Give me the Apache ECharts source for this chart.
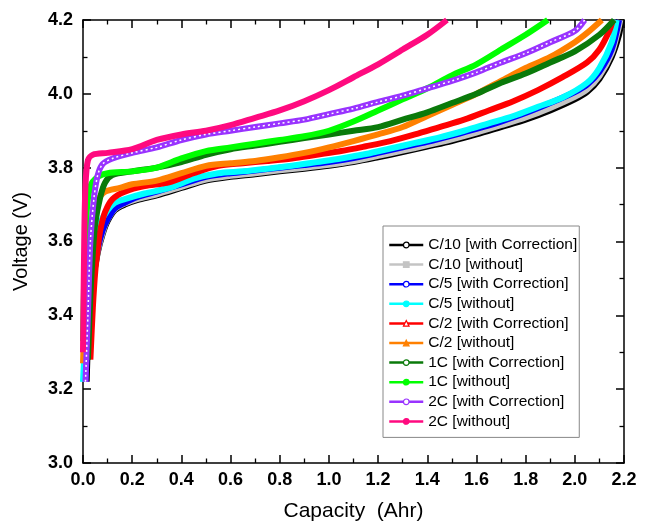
<!DOCTYPE html>
<html><head><meta charset="utf-8">
<script src="https://cdn.jsdelivr.net/npm/echarts@6/dist/echarts.min.js"></script>
<style>html,body{margin:0;padding:0;background:#fff}#c{width:651px;height:521px}</style>
</head><body><div id="c"></div>
<script>
const seriesNames = ["C/10 [with Correction]","C/10 [without]","C/5 [with Correction]","C/5 [without]","C/2 [with Correction]","C/2 [without]","1C [with Correction]","1C [without]","2C [with Correction]","2C [without]"];
const xTicks = [0.0,0.2,0.4,0.6,0.8,1.0,1.2,1.4,1.6,1.8,2.0,2.2];
const yTicks = [3.0,3.2,3.4,3.6,3.8,4.0,4.2];

const c10With = [[0.015,3.22],[0.02,3.32],[0.03,3.42],[0.04,3.49],[0.06,3.57],[0.08,3.62],[0.1,3.655],[0.13,3.685],[0.17,3.70],[0.22,3.712],[0.3,3.725],[0.4,3.745],[0.5,3.765],[0.6,3.775],[0.7,3.782],[0.8,3.79],[0.9,3.797],[1.0,3.805],[1.1,3.815],[1.2,3.828],[1.3,3.842],[1.4,3.857],[1.5,3.872],[1.6,3.89],[1.7,3.91],[1.8,3.93],[1.9,3.955],[2.0,3.985],[2.05,4.005],[2.1,4.04],[2.15,4.1],[2.18,4.16],[2.19,4.2]];
const c10Without = [[0.005,3.24],[0.015,3.34],[0.025,3.43],[0.04,3.5],[0.06,3.575],[0.08,3.625],[0.1,3.66],[0.13,3.688],[0.17,3.703],[0.22,3.715],[0.3,3.728],[0.4,3.748],[0.5,3.768],[0.6,3.778],[0.7,3.785],[0.8,3.793],[0.9,3.8],[1.0,3.808],[1.1,3.818],[1.2,3.832],[1.3,3.846],[1.4,3.861],[1.5,3.877],[1.6,3.895],[1.7,3.915],[1.8,3.936],[1.9,3.962],[2.0,3.992],[2.05,4.012],[2.1,4.048],[2.15,4.11],[2.175,4.17],[2.185,4.2]];
const c5With = [[0.01,3.22],[0.02,3.35],[0.03,3.44],[0.04,3.5],[0.06,3.58],[0.08,3.63],[0.1,3.66],[0.13,3.69],[0.17,3.705],[0.22,3.72],[0.3,3.735],[0.4,3.755],[0.5,3.775],[0.6,3.785],[0.7,3.792],[0.8,3.80],[0.9,3.807],[1.0,3.815],[1.1,3.826],[1.2,3.84],[1.3,3.855],[1.4,3.87],[1.5,3.887],[1.6,3.905],[1.7,3.925],[1.8,3.948],[1.9,3.975],[2.0,4.005],[2.05,4.025],[2.1,4.06],[2.15,4.12],[2.18,4.2]];
const c5Without = [[0.0,3.22],[0.01,3.35],[0.02,3.45],[0.03,3.52],[0.05,3.6],[0.07,3.65],[0.1,3.685],[0.13,3.705],[0.17,3.715],[0.25,3.73],[0.35,3.745],[0.45,3.77],[0.55,3.785],[0.65,3.79],[0.75,3.797],[0.85,3.805],[0.95,3.815],[1.05,3.825],[1.15,3.837],[1.25,3.852],[1.35,3.867],[1.45,3.882],[1.55,3.9],[1.65,3.92],[1.75,3.94],[1.85,3.965],[1.95,3.99],[2.05,4.03],[2.1,4.07],[2.15,4.14],[2.17,4.2]];
const c2With = [[0.03,3.28],[0.04,3.42],[0.05,3.52],[0.06,3.58],[0.07,3.63],[0.09,3.68],[0.12,3.715],[0.17,3.735],[0.25,3.75],[0.35,3.76],[0.45,3.785],[0.55,3.805],[0.65,3.812],[0.75,3.818],[0.85,3.825],[0.95,3.835],[1.05,3.845],[1.15,3.858],[1.25,3.872],[1.35,3.89],[1.45,3.91],[1.55,3.93],[1.65,3.955],[1.75,3.98],[1.85,4.01],[1.95,4.045],[2.05,4.085],[2.1,4.12],[2.14,4.17],[2.155,4.2]];
const c2Without = [[0.0,3.27],[0.01,3.45],[0.02,3.58],[0.04,3.66],[0.06,3.71],[0.09,3.735],[0.15,3.745],[0.2,3.755],[0.3,3.765],[0.4,3.785],[0.5,3.805],[0.6,3.812],[0.7,3.818],[0.8,3.828],[0.9,3.84],[1.0,3.855],[1.1,3.872],[1.2,3.89],[1.3,3.91],[1.4,3.94],[1.5,3.97],[1.6,4.0],[1.7,4.035],[1.8,4.07],[1.9,4.1],[2.0,4.14],[2.05,4.165],[2.11,4.2]];
const c1With = [[0.02,3.28],[0.03,3.45],[0.04,3.57],[0.05,3.65],[0.07,3.72],[0.09,3.76],[0.12,3.78],[0.2,3.79],[0.3,3.80],[0.4,3.815],[0.5,3.835],[0.6,3.85],[0.7,3.86],[0.8,3.87],[0.9,3.88],[1.0,3.89],[1.1,3.9],[1.2,3.91],[1.3,3.93],[1.4,3.95],[1.5,3.975],[1.6,4.0],[1.7,4.03],[1.8,4.055],[1.9,4.085],[2.0,4.115],[2.1,4.16],[2.16,4.2]];
const c1Without = [[0.0,3.33],[0.005,3.5],[0.015,3.68],[0.03,3.75],[0.06,3.775],[0.1,3.785],[0.2,3.79],[0.3,3.80],[0.4,3.825],[0.5,3.845],[0.6,3.855],[0.7,3.865],[0.8,3.875],[0.9,3.885],[1.0,3.9],[1.1,3.925],[1.2,3.955],[1.3,3.985],[1.4,4.015],[1.5,4.05],[1.6,4.08],[1.7,4.12],[1.8,4.16],[1.89,4.2]];
const c2cWith = [[0.01,3.22],[0.02,3.4],[0.03,3.6],[0.045,3.72],[0.06,3.78],[0.08,3.81],[0.12,3.825],[0.2,3.84],[0.3,3.855],[0.4,3.875],[0.5,3.89],[0.6,3.90],[0.7,3.91],[0.8,3.92],[0.9,3.93],[1.0,3.945],[1.1,3.96],[1.2,3.978],[1.3,3.995],[1.4,4.015],[1.5,4.035],[1.6,4.058],[1.7,4.085],[1.8,4.11],[1.9,4.14],[2.0,4.17],[2.04,4.2]];
const c2cWithout = [[0.0,3.30],[0.005,3.6],[0.01,3.75],[0.02,3.82],[0.04,3.835],[0.1,3.84],[0.2,3.85],[0.3,3.875],[0.4,3.89],[0.5,3.90],[0.6,3.915],[0.7,3.935],[0.8,3.955],[0.9,3.98],[1.0,4.01],[1.1,4.045],[1.2,4.08],[1.3,4.12],[1.4,4.16],[1.48,4.2]];

const dataSets = [c10With,c10Without,c5With,c5Without,c2With,c2Without,c1With,c1Without,c2cWith,c2cWithout];
const colors = ["#000000","#c4c4c4","#0000ff","#00ffff","#ff0000","#ff8000","#0a7a0a","#00ff00","#9933ff","#ff0a7f"];
const symbols = ["emptyCircle","rect","emptyCircle","circle","emptyTriangle","triangle","emptyCircle","circle","emptyCircle","circle"];

const font = "Liberation Sans, Arial, sans-serif";
const isEmpty = s => s.startsWith('empty');
const series = dataSets.map((d,i)=>({
  name: seriesNames[i], type:'line', data:d, smooth:0.3,
  symbol: symbols[i].replace('empty','').toLowerCase(), symbolSize: 5, showSymbol:false,
  color: colors[i],
  lineStyle:{width:6,color:colors[i]},
  itemStyle:{color: isEmpty(symbols[i]) ? '#fff' : colors[i], borderColor:colors[i], borderWidth:1.2},
  emphasis:{disabled:true}, z: 2+i, clip:true
}));
// hollow-marker texture on the 2C corrected curve
series.push({name:'_tex', type:'line', data:c2cWith, smooth:0.3, showSymbol:false,
  lineStyle:{width:1.5,color:'#ffffff',type:[2,3]}, z:11, silent:true, clip:true});

const legendData = seriesNames.map((n,i)=>({
  name:n,
  itemStyle:{color: isEmpty(symbols[i]) ? '#ffffff' : colors[i], borderColor:colors[i], borderWidth:1.2},
  lineStyle:{color:colors[i], width:2.5}
}));

const chart = echarts.init(document.getElementById('c'),null,{renderer:'canvas'});
const tickStyle = {show:true, inside:true, length:8, lineStyle:{color:'#000',width:1.5}};
const minorTick = {show:true, splitNumber:2, length:4.5, lineStyle:{color:'#000',width:1.3}};
chart.setOption({
  animation:false,
  backgroundColor:'#fff',
  grid:{left:83,right:27,top:20,bottom:58,containLabel:false,outerBoundsMode:'none'},
  legend:{
    data:legendData, orient:'vertical', left:383, top:226,
    itemWidth:34, itemHeight:7, itemGap:3.6,
    padding:[11,2,8,5],
    borderColor:'#888', borderWidth:1,
    textStyle:{fontFamily:font,fontSize:15.5,color:'#000'}
  },
  xAxis:[{
    type:'value', min:0, max:2.2, interval:0.2,
    name:'Capacity  (Ahr)', nameLocation:'middle', nameGap:38,
    nameTextStyle:{fontFamily:font,fontSize:21,color:'#000'},
    axisLine:{onZero:false,lineStyle:{color:'#000',width:1.5}},
    axisTick:tickStyle, minorTick:minorTick, splitLine:{show:false},
    axisLabel:{fontFamily:font,fontSize:18,fontWeight:'bold',color:'#000',margin:8,
      formatter:v=>{const t=xTicks.find(x=>Math.abs(x-v)<1e-6);return t===undefined?'':t.toFixed(1);}}
  },{
    type:'value', position:'top', min:0, max:2.2, interval:0.2,
    axisLine:{onZero:false,lineStyle:{color:'#000',width:1.5}},
    axisTick:tickStyle, minorTick:minorTick, axisLabel:{show:false}, splitLine:{show:false}
  }],
  yAxis:[{
    type:'value', min:3.0, max:4.2, interval:0.2,
    name:'Voltage (V)', nameLocation:'middle', nameGap:52, nameRotate:90,
    nameTextStyle:{fontFamily:font,fontSize:20,color:'#000'},
    axisLine:{onZero:false,lineStyle:{color:'#000',width:1.5}},
    axisTick:tickStyle, minorTick:minorTick, splitLine:{show:false},
    axisLabel:{fontFamily:font,fontSize:18,fontWeight:'bold',color:'#000',margin:10,
      formatter:v=>{const t=yTicks.find(x=>Math.abs(x-v)<1e-6);return t===undefined?'':t.toFixed(1);}}
  },{
    type:'value', position:'right', min:3.0, max:4.2, interval:0.2,
    axisLine:{onZero:false,lineStyle:{color:'#000',width:1.5}},
    axisTick:tickStyle, minorTick:minorTick, axisLabel:{show:false}, splitLine:{show:false}
  }],
  series: series
});
</script></body></html>
